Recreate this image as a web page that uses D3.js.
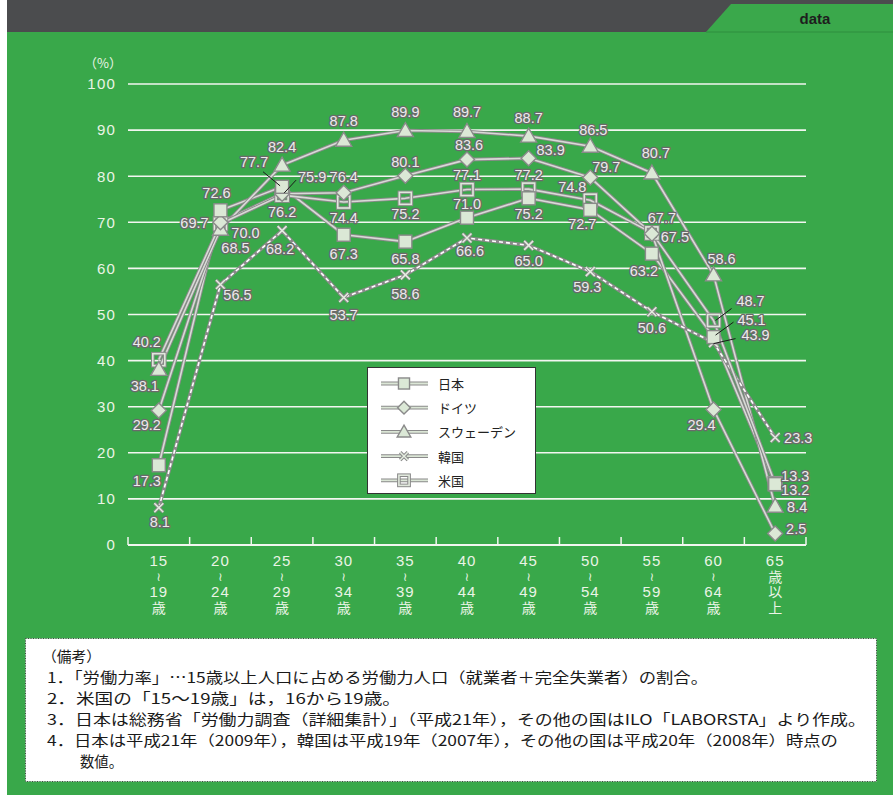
<!DOCTYPE html>
<html><head><meta charset="utf-8">
<script src="https://cdn.jsdelivr.net/npm/d3@7/dist/d3.min.js"></script>
<style>
html,body{margin:0;padding:0;background:#fff;}
svg{display:block;}
</style></head>
<body>
<svg id="chart" width="893" height="795"></svg>
<script>
// ---------- data ----------
const categories = ["15〜19歳","20〜24歳","25〜29歳","30〜34歳","35〜39歳","40〜44歳","45〜49歳","50〜54歳","55〜59歳","60〜64歳","65歳以上"];
const tickLines = [["15","〜","19","歳"],["20","〜","24","歳"],["25","〜","29","歳"],["30","〜","34","歳"],["35","〜","39","歳"],["40","〜","44","歳"],["45","〜","49","歳"],["50","〜","54","歳"],["55","〜","59","歳"],["60","〜","64","歳"],["65","歳","以","上"]];
const yTicks = [0,10,20,30,40,50,60,70,80,90,100];
const seriesNames = ["日本","ドイツ","スウェーデン","韓国","米国"];
const japan   = [17.3, 72.6, 77.7, 67.3, 65.8, 71.0, 75.2, 72.7, 63.2, 45.1, 13.2];
const germany = [29.2, 70.0, 76.2, 76.4, 80.1, 83.6, 83.9, 79.7, 67.5, 29.4, 2.5];
const sweden  = [38.1, 68.5, 82.4, 87.8, 89.9, 89.7, 88.7, 86.5, 80.7, 58.6, 8.4];
const korea   = [8.1, 56.5, 68.2, 53.7, 58.6, 66.6, 65.0, 59.3, 50.6, 43.9, 23.3];
const usa     = [40.2, 69.7, 75.9, 74.4, 75.2, 77.1, 77.2, 74.8, 67.7, 48.7, 13.3];
const notes = [
  "（備考）",
  "1．「労働力率」…15歳以上人口に占める労働力人口（就業者＋完全失業者）の割合。",
  "2．米国の「15〜19歳」は，16から19歳。",
  "3．日本は総務省「労働力調査（詳細集計）」（平成21年），その他の国はILO「LABORSTA」より作成。",
  "4．日本は平成21年（2009年），韓国は平成19年（2007年），その他の国は平成20年（2008年）時点の",
  "数値。"
];

// ---------- layout (label offsets relative to points) ----------
const offJapan   = [[-12,16],[-4,-17],[-28,-25],[0,19],[0,17],[0,-14],[0,16],[-8,14],[-8,17],[38,-17],[20,6]];
const offGermany = [[-12,15],[25,11],[0,18],[0,-16],[0,-14],[2,-15],[22,-8],[16,-11],[23,3],[-12,16],[21,-4]];
const offSweden  = [[-14,17],[15,19],[0,-18],[0,-19],[0,-19],[0,-19],[0,-18],[3,-16],[4,-20],[8,-16],[22,1]];
const offKorea   = [[1,14],[17,10],[-2,18],[0,18],[0,19],[3,13],[0,16],[-3,15],[0,16],[42,-8],[23,0]];
const offUsa     = [[-12,-18],[-26,-1],[30,-18],[0,16],[0,16],[0,-15],[0,-14],[-18,-13],[10,-15],[37,-19],[20,-8]];
// leader lines: [seriesIndex, categoryIndex, x1,y1,x2,y2] offsets from point
const leaders = [[0,2,-2,-1,-19,-15],[4,2,2,-2,14,-15],[4,9,2,0,18,-12],[0,9,2,-2,20,-15],[3,9,0,1,22,-4]];
// notes layout: x start, width
const noteX = [42,47,47,47,47,80];
const noteW = [59,661,354,819,791,43];

const seriesValues = [japan, germany, sweden, korea, usa];
const seriesOffsets = [offJapan, offGermany, offSweden, offKorea, offUsa];
const markerTypes = ["square","diamond","triangle","cross","hollow"];

const GREEN = "#39a84a";
const LINE_DARK = "#8a8a8a";
const LINE_LIGHT = "#d8dbd6";
const MARK_FILL = "#dbe8d6";

const svg = d3.select("#chart");

// background
svg.append("rect").attr("x",7).attr("y",0).attr("width",886).attr("height",32).attr("fill","#4b4c4e");
svg.append("rect").attr("x",7).attr("y",32).attr("width",886).attr("height",763).attr("fill",GREEN);
svg.append("path").attr("d","M706,32 L731,4 L893,4 L893,32 Z").attr("fill","#3aa84b");
svg.append("line").attr("x1",706).attr("x2",893).attr("y1",32).attr("y2",32).attr("stroke","#2f8e3e").attr("stroke-width",1);
svg.append("text").attr("x",815).attr("y",18).attr("text-anchor","middle").attr("dominant-baseline","central")
  .attr("font-family","Liberation Sans, Arial, sans-serif").attr("font-weight","bold").attr("font-size",15)
  .attr("fill","#1e1e1e").text("data");

// scales
const x = d3.scaleBand().domain(categories).range([128, 806]);
const y = d3.scaleLinear().domain([0,100]).range([545, 84]);
const cx = c => x(c) + x.bandwidth()/2;

// gridlines
svg.append("g").selectAll("line").data(yTicks.filter(v=>v>0)).join("line")
  .attr("x1",128).attr("x2",806).attr("y1",d=>y(d)).attr("y2",d=>y(d))
  .attr("stroke","#f2f6f0").attr("stroke-width",1.6);

// y axis labels
const yAxis = d3.axisLeft(y).tickValues(yTicks).tickSize(0).tickPadding(12);
const gy = svg.append("g").attr("transform","translate(128,0)").call(yAxis);
gy.select(".domain").remove();
gy.selectAll("text").attr("font-family","Liberation Sans, Arial, sans-serif").attr("font-size",15)
  .attr("letter-spacing","1.2px").attr("fill","#eaf4e6");
svg.append("text").attr("x",103).attr("y",62).attr("text-anchor","middle").attr("dominant-baseline","central")
  .attr("font-family","Noto Sans CJK JP, sans-serif").attr("font-size",13).attr("fill","#eaf4e6").text("（%）");

// x axis
svg.append("line").attr("x1",128).attr("x2",806).attr("y1",545).attr("y2",545).attr("stroke","#f2f6f0").attr("stroke-width",1.8);
const bounds = categories.map(c=>x(c)).concat([x.range()[1]]);
svg.append("g").selectAll("line").data(bounds).join("line")
  .attr("x1",d=>d).attr("x2",d=>d).attr("y1",545).attr("y2",537)
  .attr("stroke","#f2f6f0").attr("stroke-width",1.5);
const gx = svg.append("g");
categories.forEach((c,i)=>{
  const t = gx.append("text").attr("text-anchor","middle")
    .attr("font-family","Liberation Sans, Noto Sans CJK JP, sans-serif").attr("font-size",15)
    .attr("fill","#eaf4e6");
  tickLines[i].forEach((s,j)=>{
    const ty = 566 + j*15.5;
    const sp = t.append("tspan").attr("x",cx(c)).attr("y",ty).text(s);
    if (s === "〜") {
      sp.text("≀").attr("font-family","DejaVu Sans, sans-serif").attr("font-size",12).attr("y",ty-1);
    } else if (/\d/.test(s)) {
      sp.attr("letter-spacing","1px");
    } else {
      sp.attr("font-size",14).attr("font-family","Noto Sans CJK JP, sans-serif");
    }
  });
});

// lines
const lineGen = d3.line().x((d,i)=>cx(categories[i])).y(d=>y(d));
seriesValues.forEach((vals,s)=>{
  const g = svg.append("g");
  g.append("path").attr("d",lineGen(vals)).attr("fill","none").attr("stroke",LINE_DARK).attr("stroke-width",3.6).attr("stroke-linejoin","round");
  const inner = g.append("path").attr("d",lineGen(vals)).attr("fill","none").attr("stroke-width",1.6).attr("stroke-linejoin","round");
  if (s===3) inner.attr("stroke","#ffffff").attr("stroke-dasharray","4,3");
  else inner.attr("stroke",LINE_LIGHT);
});

// marker drawing
function drawMarker(g, type, px, py, scale){
  const k = scale || 1;
  if (type==="square"){
    g.append("rect").attr("x",px-6.5*k).attr("y",py-6.5*k).attr("width",13*k).attr("height",13*k)
      .attr("fill",MARK_FILL).attr("stroke",LINE_DARK).attr("stroke-width",1.4);
  } else if (type==="diamond"){
    const r=7.5*k;
    g.append("path").attr("d",`M${px},${py-r}L${px+r},${py}L${px},${py+r}L${px-r},${py}Z`)
      .attr("fill",MARK_FILL).attr("stroke",LINE_DARK).attr("stroke-width",1.4);
  } else if (type==="triangle"){
    const h=8*k, w=8*k;
    g.append("path").attr("d",`M${px},${py-h}L${px+w},${py+6*k}L${px-w},${py+6*k}Z`)
      .attr("fill",MARK_FILL).attr("stroke",LINE_DARK).attr("stroke-width",1.4);
  } else if (type==="cross"){
    const r=4.5*k;
    const d=`M${px-r},${py-r}L${px+r},${py+r}M${px-r},${py+r}L${px+r},${py-r}`;
    g.append("path").attr("d",d).attr("stroke",LINE_DARK).attr("stroke-width",3.4).attr("fill","none");
    g.append("path").attr("d",d).attr("stroke","#e4ede0").attr("stroke-width",1.5).attr("fill","none");
  } else if (type==="hollow"){
    g.append("rect").attr("x",px-6*k).attr("y",py-6*k).attr("width",12*k).attr("height",12*k)
      .attr("fill","none").attr("stroke",LINE_DARK).attr("stroke-width",3.6);
    g.append("rect").attr("x",px-6*k).attr("y",py-6*k).attr("width",12*k).attr("height",12*k)
      .attr("fill","none").attr("stroke","#e0e8dc").attr("stroke-width",1.6);
  }
}

// markers (draw US, Korea, Sweden, Germany, Japan so Japan on top)
[4,3,2,1,0].forEach(s=>{
  const g = svg.append("g");
  seriesValues[s].forEach((v,i)=>drawMarker(g, markerTypes[s], cx(categories[i]), y(v)));
});

// leader lines
svg.append("g").selectAll("line").data(leaders).join("line")
  .attr("x1",d=>cx(categories[d[1]])+d[2]).attr("y1",d=>y(seriesValues[d[0]][d[1]])+d[3])
  .attr("x2",d=>cx(categories[d[1]])+d[4]).attr("y2",d=>y(seriesValues[d[0]][d[1]])+d[5])
  .attr("stroke","#1a1a1a").attr("stroke-width",1);

// data labels
const gl = svg.append("g");
seriesValues.forEach((vals,s)=>{
  vals.forEach((v,i)=>{
    const o = seriesOffsets[s][i];
    gl.append("text").attr("x",cx(categories[i])+o[0]).attr("y",y(v)+o[1])
      .attr("text-anchor","middle").attr("dominant-baseline","central")
      .attr("font-family","Liberation Sans, Arial, sans-serif").attr("font-size",14.5)
      .attr("fill","#ececec").attr("stroke","#6a6a6a").attr("stroke-width",2.6)
      .attr("stroke-linejoin","round").attr("paint-order","stroke")
      .text(v.toFixed(1));
  });
});

// legend
const lg = svg.append("g");
lg.append("rect").attr("x",367.5).attr("y",367.5).attr("width",168).attr("height",126)
  .attr("fill","#ffffff").attr("stroke","#333").attr("stroke-width",1);
seriesNames.forEach((name,s)=>{
  const ly = 383.5 + s*24.2;
  lg.append("line").attr("x1",381).attr("x2",428).attr("y1",ly).attr("y2",ly).attr("stroke",LINE_DARK).attr("stroke-width",3.8);
  lg.append("line").attr("x1",381).attr("x2",428).attr("y1",ly).attr("y2",ly).attr("stroke","#dbe6d6").attr("stroke-width",1.8);
  drawMarker(lg, markerTypes[s], 404, ly, 0.85);
  lg.append("text").attr("x",438).attr("y",ly).attr("dominant-baseline","central")
    .attr("font-family","Noto Sans CJK JP, sans-serif").attr("font-size",13).attr("fill","#222").text(name);
});

// notes box
svg.append("rect").attr("x",25.5).attr("y",638.5).attr("width",851).attr("height",143)
  .attr("fill","#ffffff").attr("stroke","#444").attr("stroke-width",1).attr("stroke-dasharray","1,1.5");
notes.forEach((t,i)=>{
  svg.append("text").attr("x",noteX[i]).attr("y",655+i*21).attr("dominant-baseline","central")
    .attr("font-family","Noto Sans CJK JP, sans-serif").attr("font-size",14.5).attr("fill","#1a1a1a")
    .attr("textLength",noteW[i]).attr("lengthAdjust","spacingAndGlyphs").text(t);
});
</script>
</body></html>
